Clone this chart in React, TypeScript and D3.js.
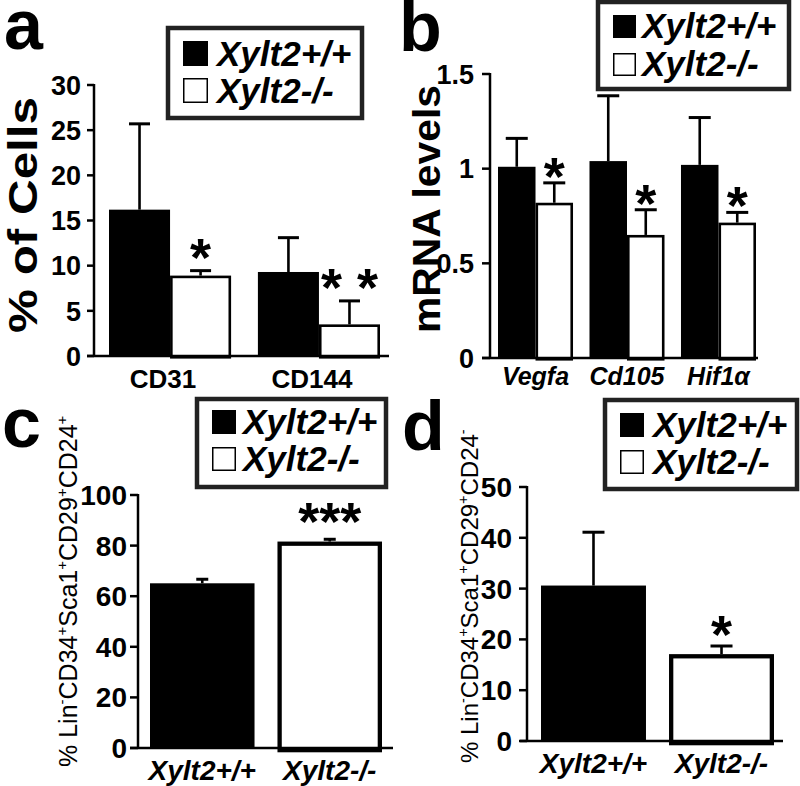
import React from 'react';
import * as d3 from 'd3';

const FONT = "'Liberation Sans', Arial, Helvetica, sans-serif";
const W = 800;
const H = 786;

// panel a: % of cells
const aCategories = ['CD31', 'CD144'];
const aWt = [16.2, 9.3];
const aWtErr = [9.5, 3.8];
const aKo = [8.9, 3.5];
const aKoErr = [0.55, 2.6];
const aStars = ['*', '* *'];
const aTicks = [0, 5, 10, 15, 20, 25, 30];

// panel b: mRNA levels
const bCategories = ['Vegfa', 'Cd105', 'Hif1α'];
const bWt = [1.01, 1.04, 1.02];
const bWtErr = [0.15, 0.345, 0.25];
const bKo = [0.82, 0.65, 0.715];
const bKoErr = [0.105, 0.133, 0.054];
const bStars = ['*', '*', '*'];
const bTicks = [0, 0.5, 1, 1.5];
const bTickLabels = ['0', '0.5', '1', '1.5'];

// panel c: Lin-CD34+Sca1+CD29+CD24+
const cCategories = ['Xylt2+/+', 'Xylt2-/-'];
const cValues = [65.1, 81.6];
const cErr = [1.6, 0.9];
const cStars = ['', '***'];
const cTicks = [0, 20, 40, 60, 80, 100];

// panel d: Lin-CD34+Sca1+CD29+CD24-
const dCategories = ['Xylt2+/+', 'Xylt2-/-'];
const dValues = [30.6, 17.1];
const dErr = [10.5, 1.6];
const dStars = ['', '*'];
const dTicks = [0, 10, 20, 30, 40, 50];

const legendLabels = ['Xylt2+/+', 'Xylt2-/-'];
const cLabelParts = ['% Lin', '-', 'CD34', '+', 'Sca1', '+', 'CD29', '+', 'CD24', '+'];
const dLabelParts = ['% Lin', '-', 'CD34', '+', 'Sca1', '+', 'CD29', '+', 'CD24', '-'];

type Bar = { x: number; w: number; value: number; err: number; white: boolean; star: string };

const STAR_SIZE = 54;

function groupedBars(cats: string[], wt: number[], wtErr: number[], ko: number[], koErr: number[], stars: string[], band: d3.ScaleBand<string>): Bar[] {
  const w = band.bandwidth() / 2;
  return cats.flatMap((c, i) => {
    const x0 = band(c)!;
    return [
      { x: x0, w, value: wt[i], err: wtErr[i], white: false, star: '' },
      { x: x0 + w, w, value: ko[i], err: koErr[i], white: true, star: stars[i] },
    ];
  });
}

function singleBars(cats: string[], vals: number[], errs: number[], stars: string[], band: d3.ScaleBand<string>): Bar[] {
  return cats.map((c, i) => ({ x: band(c)!, w: band.bandwidth(), value: vals[i], err: errs[i], white: i === 1, star: stars[i] }));
}

interface PanelProps {
  letter: string; letterX: number; letterY: number;
  axisX: number; yTop: number; yBase: number; max: number;
  ticks: number[]; tickLabels?: string[]; tickFont: number; tickLen: number; tickGap: number;
  xFrom: number; xTo: number;
  cats: string[]; band: d3.ScaleBand<string>; bars: Bar[];
  catFont: number; catItalic: boolean; catY: number; catDx?: number;
  capW: number; whiteStroke: number; starGap: number;
  legend: { x: number; y: number; w: number; h: number; sq: number; textX: number; row1: number; row2: number };
  yLabel: React.ReactNode;
}

const Panel: React.FC<PanelProps> = (p) => {
  const y = d3.scaleLinear().domain([0, p.max]).range([p.yBase, p.yTop]);
  const lg = p.legend;
  return (
    <g>
      {/* bars */}
      {p.bars.map((b, i) => {
        const sw = b.white ? p.whiteStroke : 0;
        return (
          <rect key={'bar' + i}
            x={b.x + sw / 2} y={y(b.value) + sw / 2}
            width={b.w - sw} height={y(0) - y(b.value)}
            fill={b.white ? '#fff' : '#000'}
            stroke={b.white ? '#000' : 'none'} strokeWidth={sw} />
        );
      })}
      {/* error bars */}
      {p.bars.map((b, i) => {
        const cx = b.x + b.w / 2;
        const top = y(b.value + b.err);
        return (
          <g key={'err' + i} stroke="#000" strokeWidth={2.6}>
            <line x1={cx} x2={cx} y1={y(b.value)} y2={top} />
            <line x1={cx - p.capW / 2} x2={cx + p.capW / 2} y1={top} y2={top} strokeWidth={3} />
          </g>
        );
      })}
      {/* stars */}
      {p.bars.filter((b) => b.star).map((b, i) => (
        <text key={'star' + i} x={b.x + b.w / 2} y={y(b.value + b.err) - p.starGap + 0.575 * STAR_SIZE}
          textAnchor="middle" fontFamily={FONT} fontWeight="bold" fontSize={STAR_SIZE}>{b.star}</text>
      ))}
      {/* axes */}
      <line x1={p.axisX} x2={p.axisX} y1={y(p.max) - 1} y2={y(0)} stroke="#000" strokeWidth={2.5} />
      <line x1={p.xFrom} x2={p.xTo} y1={y(0)} y2={y(0)} stroke="#000" strokeWidth={2.5} />
      {p.ticks.map((t, i) => (
        <g key={'tick' + i}>
          <line x1={p.axisX - p.tickLen} x2={p.axisX} y1={y(t)} y2={y(t)} stroke="#000" strokeWidth={2.5} />
          <text x={p.axisX - p.tickLen - p.tickGap} y={y(t)} dy="0.36em" textAnchor="end"
            fontFamily={FONT} fontWeight="bold" fontSize={p.tickFont}>
            {p.tickLabels ? p.tickLabels[i] : String(t)}
          </text>
        </g>
      ))}
      {p.cats.map((c) => (
        <text key={'cat' + c} x={p.band(c)! + p.band.bandwidth() / 2 + (p.catDx || 0)} y={p.catY} textAnchor="middle"
          fontFamily={FONT} fontWeight="bold" fontStyle={p.catItalic ? 'italic' : 'normal'} fontSize={p.catFont}>{c}</text>
      ))}
      {p.yLabel}
      {/* legend */}
      <rect x={lg.x} y={lg.y} width={lg.w} height={lg.h} fill="#fff" stroke="#222" strokeWidth={4.5} />
      <rect x={lg.x + 15} y={lg.row1 - lg.sq} width={lg.sq} height={lg.sq} fill="#000" />
      <rect x={lg.x + 15.75} y={lg.row2 - lg.sq + 0.75} width={lg.sq - 1.5} height={lg.sq - 1.5} fill="#fff" stroke="#000" strokeWidth={1.5} />
      {legendLabels.map((t, i) => (
        <text key={'lg' + i} x={lg.textX} y={i === 0 ? lg.row1 : lg.row2}
          fontFamily={FONT} fontWeight="bold" fontStyle="italic" fontSize={35}>{t}</text>
      ))}
      <text x={p.letterX} y={p.letterY} fontFamily={FONT} fontWeight="bold" fontSize={70}>{p.letter}</text>
    </g>
  );
};

const SupLabel: React.FC<{ parts: string[]; x: number; y: number; size: number }> = ({ parts, x, y, size }) => (
  <text transform={`translate(${x},${y}) rotate(-90)`} fontFamily={FONT} fontSize={size}>
    {parts.map((s, i) => {
      const sup = i % 2 === 1;
      const dy = sup ? -0.4 * size : i > 0 ? 0.4 * size : 0;
      return (
        <tspan key={i} dy={dy} fontSize={sup ? size * 0.6 : size}>{s}</tspan>
      );
    })}
  </text>
);

export default function App() {
  const aBand = d3.scaleBand<string>().domain(aCategories).range([109, 380]).paddingInner(0.18);
  const bBand = d3.scaleBand<string>().domain(bCategories).range([498, 756]).paddingInner(0.18);
  const cBand = d3.scaleBand<string>().domain(cCategories).range([150, 382]).paddingInner(0.18);
  const dBand = d3.scaleBand<string>().domain(dCategories).range([541, 774]).paddingInner(0.18);

  return (
    <svg width={W} height={H} viewBox={`0 0 ${W} ${H}`}
      style={{ position: 'absolute', left: 0, top: 0, background: '#fff' }}>
      <rect width={W} height={H} fill="#fff" />
      <Panel letter="a" letterX={4} letterY={49}
        axisX={94} yTop={85} yBase={356} max={30}
        ticks={aTicks} tickFont={27} tickLen={7} tickGap={6}
        xFrom={87} xTo={389}
        cats={aCategories} band={aBand}
        bars={groupedBars(aCategories, aWt, aWtErr, aKo, aKoErr, aStars, aBand)}
        catFont={26} catItalic={false} catY={388} catDx={-7}
        capW={21} whiteStroke={2.6} starGap={26}
        legend={{ x: 168, y: 28, w: 194, h: 90, sq: 25, textX: 217, row1: 66, row2: 103 }}
        yLabel={<text transform="translate(37,215) rotate(-90)" textAnchor="middle" fontFamily={FONT}
          fontWeight="bold" fontSize={40} textLength={236} lengthAdjust="spacingAndGlyphs">% of Cells</text>}
      />
      <Panel letter="b" letterX={399} letterY={51}
        axisX={490} yTop={74} yBase={358} max={1.5}
        ticks={bTicks} tickLabels={bTickLabels} tickFont={27} tickLen={8} tickGap={8}
        xFrom={482} xTo={758}
        cats={bCategories} band={bBand}
        bars={groupedBars(bCategories, bWt, bWtErr, bKo, bKoErr, bStars, bBand)}
        catFont={25} catItalic={true} catY={385}
        capW={22} whiteStroke={2.6} starGap={19}
        legend={{ x: 598, y: 2, w: 191, h: 87, sq: 23, textX: 642, row1: 38, row2: 76 }}
        yLabel={<text transform="translate(440,209) rotate(-90)" textAnchor="middle" fontFamily={FONT}
          fontWeight="bold" fontSize={39} textLength={248} lengthAdjust="spacingAndGlyphs">mRNA levels</text>}
      />
      <Panel letter="c" letterX={2} letterY={447}
        axisX={138} yTop={495} yBase={748} max={100}
        ticks={cTicks} tickFont={28} tickLen={8} tickGap={3}
        xFrom={130} xTo={393}
        cats={cCategories} band={cBand}
        bars={singleBars(cCategories, cValues, cErr, cStars, cBand)}
        catFont={28} catItalic={true} catY={780}
        capW={12} whiteStroke={4.3} starGap={30}
        legend={{ x: 197, y: 399, w: 189, h: 88, sq: 24, textX: 243, row1: 434, row2: 471 }}
        yLabel={<SupLabel parts={cLabelParts} x={77} y={767} size={25} />}
      />
      <Panel letter="d" letterX={402} letterY={450}
        axisX={527} yTop={487} yBase={741} max={50}
        ticks={dTicks} tickFont={28} tickLen={8} tickGap={7}
        xFrom={520} xTo={783}
        cats={dCategories} band={dBand}
        bars={singleBars(dCategories, dValues, dErr, dStars, dBand)}
        catFont={28} catItalic={true} catY={773}
        capW={22} whiteStroke={4.3} starGap={24}
        legend={{ x: 605, y: 400, w: 192, h: 89, sq: 24, textX: 653, row1: 437, row2: 474 }}
        yLabel={<SupLabel parts={dLabelParts} x={478} y={763} size={24} />}
      />
    </svg>
  );
}
